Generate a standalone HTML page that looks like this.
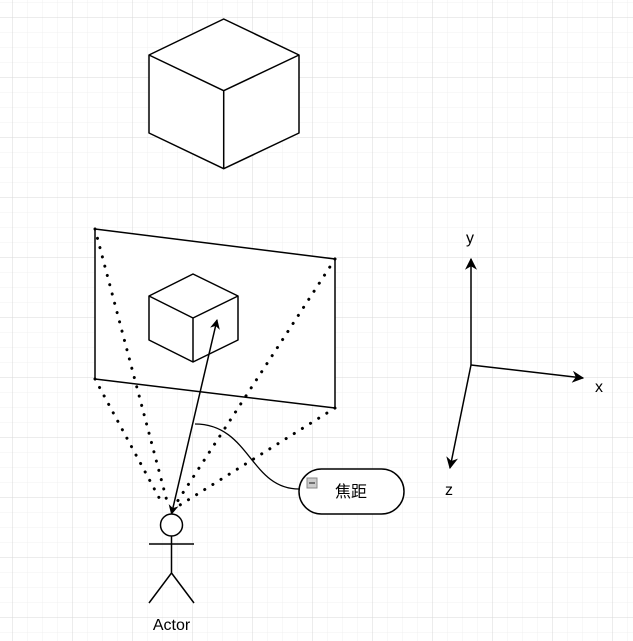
<!DOCTYPE html>
<html><head><meta charset="utf-8"><style>
html,body{margin:0;padding:0;background:#fff;}
svg{display:block;}
text{font-family:"Liberation Sans","Noto Sans CJK SC",sans-serif;}
</style></head><body>
<svg width="633" height="641" viewBox="0 0 633 641" xmlns="http://www.w3.org/2000/svg">
<defs>
<pattern id="mn" x="12.5" y="2" width="15" height="15" patternUnits="userSpaceOnUse"><path d="M0 0H15M0 0V15" stroke="#f0f0f0" stroke-width="1" fill="none"/></pattern>
<pattern id="mj" x="12.5" y="17" width="60" height="60" patternUnits="userSpaceOnUse"><path d="M0 0H60M0 0V60" stroke="#d8d8d8" stroke-width="1" fill="none"/></pattern>
<marker id="ar" viewBox="0 0 10 10" refX="9" refY="5" markerWidth="10" markerHeight="10" orient="auto-start-reverse" markerUnits="userSpaceOnUse"><path d="M0 0L10 5L0 10L3 5Z" fill="#000"/></marker>
<marker id="ab" viewBox="0 0 10 10" refX="9" refY="5" markerWidth="12" markerHeight="12" orient="auto-start-reverse" markerUnits="userSpaceOnUse"><path d="M0 0L10 5L0 10L3 5Z" fill="#000"/></marker>
</defs>
<rect width="633" height="641" fill="url(#mn)"/>
<rect width="633" height="641" fill="url(#mj)"/>
<g fill="#fff" stroke="#000" stroke-width="1.5" stroke-linejoin="round">
<path d="M223.7 19L299 55V133L223.7 168.7L149 133V55Z"/>
<path d="M149 55L223.7 90.7L299 55M223.7 90.7V168.7" fill="none"/>
<path d="M95 229L335 259V408L95 379Z"/>
<path d="M193 274L238 296V340L193 362L149 340V296Z"/>
<path d="M149 296L193 318L238 296M193 318V362" fill="none"/>
</g>
<g stroke="#000" stroke-width="3" stroke-dasharray="0.1 9.5" stroke-linecap="round" fill="none">
<path d="M95 229L168 505"/><path d="M95 379L163 505"/><path d="M335 259L175 505"/><path d="M335 408L180 505"/>
</g>
<line x1="171.5" y1="514" x2="217" y2="320" stroke="#000" stroke-width="1.5" marker-start="url(#ar)" marker-end="url(#ar)"/>
<path d="M195 424C250 424 250 489 299 489" stroke="#000" stroke-width="1.3" fill="none"/>
<rect x="299" y="469" width="105" height="45" rx="22.5" fill="#fff" stroke="#000" stroke-width="1.5"/>
<rect x="307" y="478" width="10" height="10" fill="#ccc" stroke="#888" stroke-width="1"/>
<line x1="309" y1="483" x2="315" y2="483" stroke="#333" stroke-width="1.2"/>
<text x="351" y="497" font-size="16" text-anchor="middle">焦距</text>
<g stroke="#000" stroke-width="1.5" fill="#fff">
<circle cx="171.5" cy="525" r="11"/>
<path d="M149 544H194M171.5 536V573L149 603M171.5 573L194 603" fill="none"/>
</g>
<text x="171.5" y="630" font-size="16" text-anchor="middle">Actor</text>
<g stroke="#000" stroke-width="1.5" fill="none">
<line x1="471" y1="365" x2="471" y2="259" marker-end="url(#ab)"/>
<line x1="471" y1="365" x2="583" y2="378" marker-end="url(#ab)"/>
<line x1="471" y1="365" x2="450" y2="468" marker-end="url(#ab)"/>
</g>
<text x="470" y="243" font-size="16" text-anchor="middle">y</text>
<text x="599" y="392" font-size="16" text-anchor="middle">x</text>
<text x="449" y="495" font-size="16" text-anchor="middle">z</text>
</svg>
</body></html>
